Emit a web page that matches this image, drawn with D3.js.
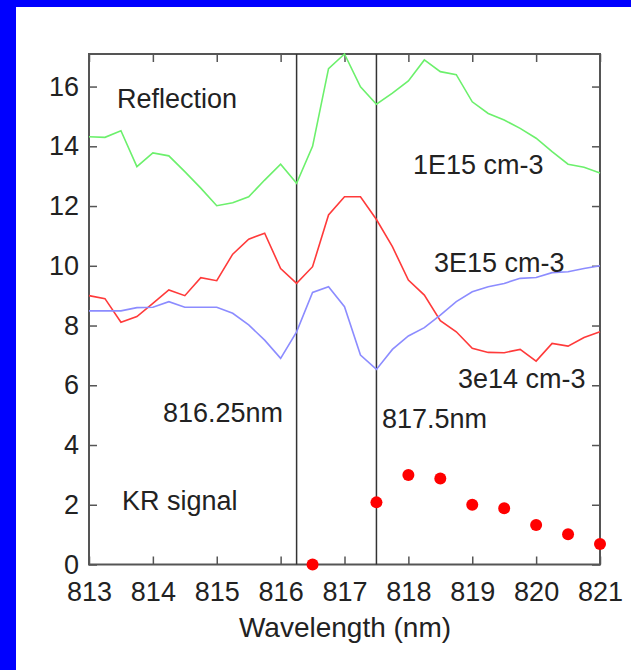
<!DOCTYPE html>
<html>
<head>
<meta charset="utf-8">
<script src="https://cdn.jsdelivr.net/npm/d3@7"></script>
<style>
  body { margin: 0; background: #fff; }
  svg { display: block; font-family: "Liberation Sans", Arial, sans-serif; }
</style>
</head>
<body>
<svg id="chart" width="631" height="670"></svg>
<script>
// wavelengths sampled every 0.25 nm
const wavelengths = [813, 813.25, 813.5, 813.75, 814, 814.25, 814.5, 814.75, 815, 815.25, 815.5, 815.75,
  816, 816.25, 816.5, 816.75, 817, 817.25, 817.5, 817.75, 818, 818.25, 818.5, 818.75,
  819, 819.25, 819.5, 819.75, 820, 820.25, 820.5, 820.75, 821]

const green1e15 = [14.32, 14.30, 14.52, 13.32, 13.78, 13.68, 13.15, 12.6, 12.01, 12.11, 12.31, 12.87,
  13.40, 12.76, 14.0, 16.6, 17.09, 15.99, 15.41, 15.78, 16.19, 16.89, 16.50, 16.40,
  15.49, 15.10, 14.88, 14.60, 14.27, 13.82, 13.40, 13.30, 13.11]

const red3e14 = [9.0, 8.9, 8.11, 8.30, 8.74, 9.19, 9.0, 9.60, 9.50, 10.39, 10.89, 11.09,
  9.91, 9.41, 9.97, 11.70, 12.31, 12.31, 11.55, 10.64, 9.52, 9.02, 8.16, 7.79,
  7.24, 7.10, 7.09, 7.20, 6.81, 7.40, 7.31, 7.60, 7.79]

const blue3e15 = [8.49, 8.49, 8.49, 8.60, 8.61, 8.80, 8.61, 8.61, 8.61, 8.41, 8.02, 7.51,
  6.90, 7.79, 9.11, 9.30, 8.63, 7.01, 6.53, 7.20, 7.65, 7.93, 8.35, 8.80,
  9.13, 9.30, 9.41, 9.58, 9.61, 9.77, 9.80, 9.91, 10.0]

const krX = [816.5, 817.5, 818, 818.5, 819, 819.5, 820, 820.5, 821]
const krY = [0, 2.08, 3.0, 2.88, 2.0, 1.88, 1.32, 1.01, 0.69]

const markers = [816.25, 817.5]
const xTicks = [813, 814, 815, 816, 817, 818, 819, 820, 821]
const yTicks = [0, 2, 4, 6, 8, 10, 12, 14, 16]

const svg = d3.select('#chart')

// blue frame (left and top)
svg.append('rect').attr('x', 0).attr('y', 0).attr('width', 631).attr('height', 7).attr('fill', '#0000ff')
svg.append('rect').attr('x', 0).attr('y', 0).attr('width', 16).attr('height', 670).attr('fill', '#0000ff')

const pLeft = 89, pRight = 600, pTop = 54, pBottom = 564.5

const x = d3.scaleLinear().domain([813, 821]).range([pLeft, pRight])
const y = d3.scaleLinear().domain([0, 17.09]).range([pBottom, pTop])

const axisColor = '#555'
const textColor = '#222'
const fs = 27

function styleAxis(g){
  g.select('.domain').remove()
  g.selectAll('.tick line').attr('stroke', axisColor).attr('stroke-width', 1.5)
  g.selectAll('.tick text').attr('fill', textColor).style('font-size', fs + 'px')
}

svg.append('g')
  .attr('transform', `translate(0,${pBottom})`)
  .call(d3.axisBottom(x).tickValues(xTicks).tickFormat(d3.format('d')).tickSizeInner(-8).tickSizeOuter(0).tickPadding(17))
  .call(styleAxis)

svg.append('g')
  .attr('transform', `translate(0,${pTop})`)
  .call(d3.axisTop(x).tickValues(xTicks).tickFormat('').tickSizeInner(-8).tickSizeOuter(0))
  .call(styleAxis)

svg.append('g')
  .attr('transform', `translate(${pLeft},0)`)
  .call(d3.axisLeft(y).tickValues(yTicks).tickFormat(d3.format('d')).tickSizeInner(-8).tickSizeOuter(0).tickPadding(10))
  .call(styleAxis)

svg.append('g')
  .attr('transform', `translate(${pRight},0)`)
  .call(d3.axisRight(y).tickValues(yTicks).tickFormat('').tickSizeInner(-8).tickSizeOuter(0))
  .call(styleAxis)

// plot box
svg.append('rect')
  .attr('x', pLeft).attr('y', pTop)
  .attr('width', pRight - pLeft).attr('height', pBottom - pTop)
  .attr('fill', 'none').attr('stroke', axisColor).attr('stroke-width', 2)

// marker lines
svg.selectAll('line.marker')
  .data(markers)
  .enter()
  .append('line')
  .attr('class', 'marker')
  .attr('x1', d => x(d)).attr('x2', d => x(d))
  .attr('y1', pTop).attr('y2', pBottom)
  .attr('stroke', '#333').attr('stroke-width', 1.5)

const line = d3.line()
  .x((d, i) => x(wavelengths[i]))
  .y(d => y(d))

const series = [
  [green1e15, '#6cf06c'],
  [red3e14, '#ff3a3a'],
  [blue3e15, '#8c8cff']
]

series.forEach(s => {
  svg.append('path')
    .datum(s[0])
    .attr('d', line)
    .attr('fill', 'none')
    .attr('stroke', s[1])
    .attr('stroke-width', 1.6)
})

svg.selectAll('circle')
  .data(krY)
  .enter()
  .append('circle')
  .attr('cx', (d, i) => x(krX[i]))
  .attr('cy', d => y(d))
  .attr('r', 6)
  .attr('fill', '#ff0000')

const labels = [
  ['Reflection', 117, 108, 'start', fs],
  ['1E15 cm-3', 413, 174, 'start', fs],
  ['3E15 cm-3', 434, 272, 'start', fs],
  ['3e14 cm-3', 458, 388, 'start', fs],
  ['816.25nm', 163, 422, 'start', fs],
  ['817.5nm', 382, 428, 'start', fs],
  ['KR signal', 122, 510, 'start', fs],
  ['Wavelength (nm)', 345, 637, 'middle', 28]
]

svg.selectAll('text.label')
  .data(labels)
  .enter()
  .append('text')
  .attr('class', 'label')
  .attr('x', d => d[1])
  .attr('y', d => d[2])
  .attr('text-anchor', d => d[3])
  .attr('fill', textColor)
  .style('font-size', d => d[4] + 'px')
  .text(d => d[0])
</script>
</body>
</html>
